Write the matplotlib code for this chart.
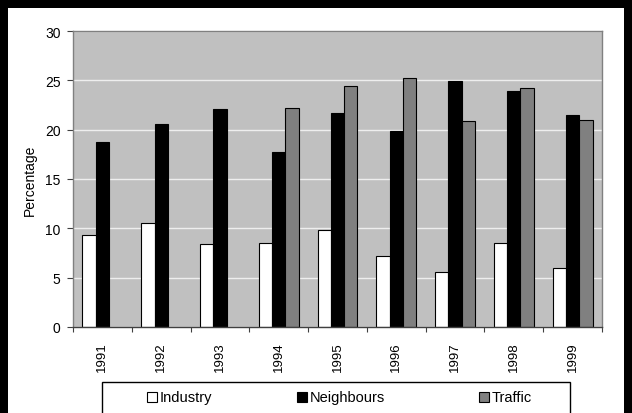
import matplotlib.pyplot as plt
import numpy as np
from matplotlib.patches import Rectangle

plt.rcParams["font.family"] = ["Liberation Sans", "DejaVu Sans"]
plt.rcParams["font.size"] = 9.5

# ---- data ----
years = ["1991", "1992", "1993", "1994", "1995", "1996", "1997", "1998", "1999"]
industry = [9.3, 10.5, 8.4, 8.5, 9.8, 7.2, 5.6, 8.5, 6.0]
neighbours = [18.8, 20.6, 22.1, 17.7, 21.7, 19.9, 24.9, 23.9, 21.5]
traffic = [np.nan, np.nan, np.nan, 22.2, 24.4, 25.2, 20.9, 24.2, 21.0]

series = [("Industry", industry, "white"),
          ("Neighbours", neighbours, "black"),
          ("Traffic", traffic, "#808080")]

W, H = 632, 414


def fx(x):
    return x / W


def fy(y):
    return 1 - y / H


fig = plt.figure(figsize=(W / 100, H / 100), dpi=100)
ax = fig.add_axes([fx(73), fy(328), fx(602) - fx(73), fy(32) - fy(328)])
ax.set_facecolor("#C0C0C0")

x = np.arange(len(years))
width = 0.226
for i, (name, vals, col) in enumerate(series):
    vals = np.asarray(vals, dtype=float)
    ok = np.isfinite(vals)
    ax.bar(x[ok] + (i - 1) * width, vals[ok], width, color=col,
           edgecolor="black", linewidth=0.8, label=name)

ax.set_xlim(-0.5, len(years) - 0.5)
ax.set_ylim(0, 30)
ax.set_yticks(range(0, 31, 5))
ax.yaxis.grid(True, color="#EEEEEE", linewidth=1.0)
ax.set_axisbelow(True)

# category boundaries as ticks, year labels centred between them
ax.set_xticks(np.arange(-0.5, len(years), 1.0))
ax.set_xticklabels([])
ax.set_xticks(x, minor=True)
ax.set_xticklabels(years, minor=True, rotation=90)
ax.tick_params(axis="x", which="major", length=3.5, width=0.8,
               color="#404040", direction="out")
ax.tick_params(axis="x", which="minor", length=0, pad=10.5)
ax.tick_params(axis="y", length=4.5, width=0.8, color="#404040", pad=4.5,
               labelsize=10)

for side in ["top", "right", "left"]:
    ax.spines[side].set_color("#808080")
    ax.spines[side].set_linewidth(1.0)
ax.spines["bottom"].set_color("#404040")
ax.spines["bottom"].set_linewidth(1.0)

ax.set_ylabel("Percentage", labelpad=6, fontsize=10)

# legend box along the bottom
fig.patches.append(Rectangle((fx(102), fy(415)), fx(570) - fx(102), fy(383) - fy(415),
                             transform=fig.transFigure, facecolor="white",
                             edgecolor="black", linewidth=1.0))
legend_x = [147, 297, 479]
for (name, vals, col), lx in zip(series, legend_x):
    fig.patches.append(Rectangle((fx(lx), fy(403)), fx(10), fy(393) - fy(403),
                                 transform=fig.transFigure, facecolor=col,
                                 edgecolor="black", linewidth=0.8))
    fig.text(fx(lx + 13), fy(398), name, ha="left", va="center", fontsize=10.5)

# black frame around the figure
for r in [(0, 0, W, 9), (0, 0, 8, H), (W - 8, 0, 8, H)]:
    rx, ry, rw, rh = r
    fig.patches.append(Rectangle((fx(rx), fy(ry + rh)), fx(rw), fy(ry) - fy(ry + rh),
                                 transform=fig.transFigure, facecolor="black",
                                 edgecolor="none"))

fig.savefig("out.png", dpi=100, facecolor="white")
